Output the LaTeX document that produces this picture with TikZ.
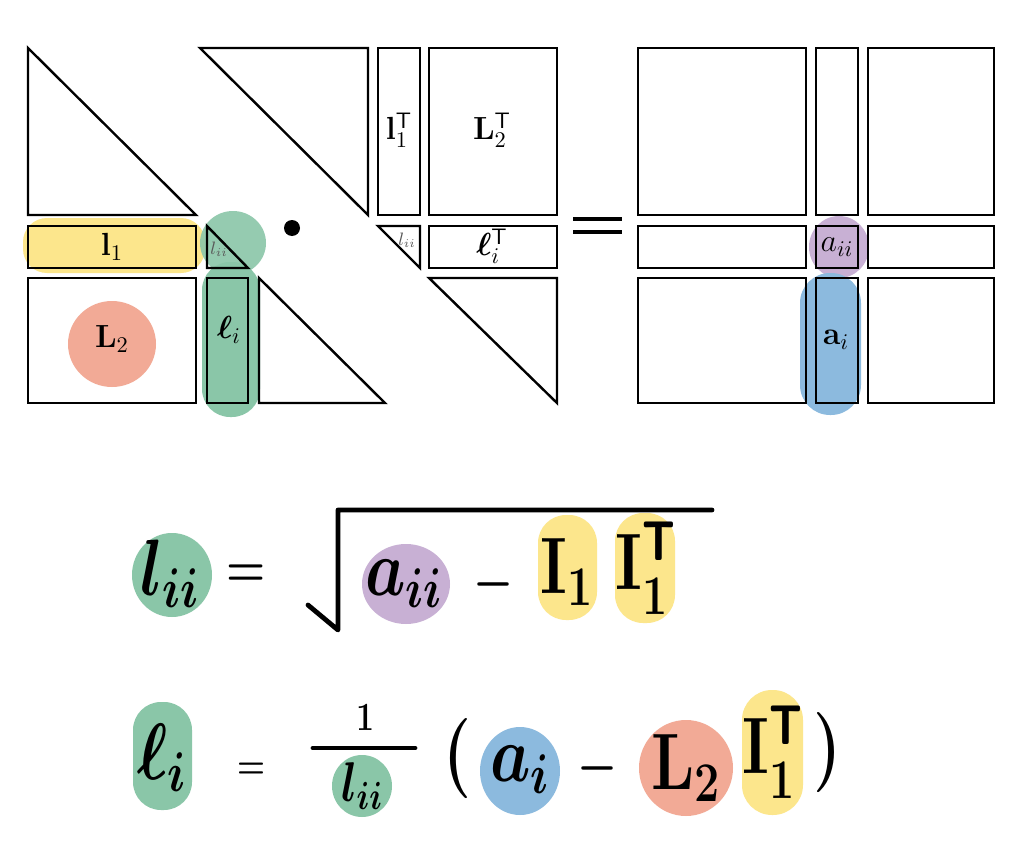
\RequirePackage{fix-cm}
\documentclass[tikz,border=0pt]{standalone}
\usepackage{bm}
\definecolor{hlyellow}{RGB}{252,230,140}
\definecolor{hlgreen}{RGB}{138,198,168}
\definecolor{hlred}{RGB}{242,170,150}
\definecolor{hlpurple}{RGB}{200,176,212}
\definecolor{hlblue}{RGB}{140,186,222}
\newcommand{\hwx}[1]{\scalebox{0.8}[1]{\boldmath #1}}
\tikzset{
  blk/.style={draw=black,line width=1.2pt},
  lab/.style={font=\fontsize{16}{19}\selectfont, inner sep=0pt},
  tiny/.style={font=\fontsize{9}{10}\selectfont, inner sep=0pt, text=black!65},
  hw/.style={font=\fontsize{40}{46}\selectfont, inner sep=0pt},
  hwsmall/.style={font=\fontsize{28}{32}\selectfont, inner sep=0pt},
  hwtiny/.style={font=\fontsize{20}{24}\selectfont, inner sep=0pt},
  pen/.style={draw=black,line width=2.4pt,line cap=round,line join=round},
}
\begin{document}
\begin{tikzpicture}[x=0.5pt,y=-0.5pt]
\useasboundingbox[fill=white] (0,0) rectangle (1024,846);

% ---------- highlights (top) ----------
\fill[hlyellow,rounded corners=12pt] (23,218) rectangle (205,273);
\fill[hlgreen,fill opacity=0.9] (233,243) ellipse [x radius=33, y radius=32];
\fill[hlgreen,rounded corners=14pt] (202,262) rectangle (260,417);
\fill[hlred] (112,344) ellipse [x radius=44, y radius=43];
\fill[hlpurple] (839,247) ellipse [x radius=30, y radius=31];
\fill[hlblue,rounded corners=15pt] (800,273) rectangle (861,415);

% ---------- left factor L ----------
\draw[blk] (28,48) -- (28,215) -- (196,215) -- cycle;
\draw[blk] (28,226) rectangle (196,268);
\draw[blk] (207,226) -- (207,268) -- (248,268) -- cycle;
\draw[blk] (28,278) rectangle (196,403);
\draw[blk] (207,278) rectangle (248,403);
\draw[blk] (259,278) -- (259,403) -- (385,403) -- cycle;
\node[lab] (l1) at (112,247) {$\mathbf{l}_1$};
\node[tiny] (lii) at (219,249) {$l_{ii}$};
\node[lab] (L2) at (112,339) {$\mathbf{L}_2$};
\node[lab] (elli) at (229,330) {$\bm{\ell}_i$};

% ---------- dot ----------
\fill (292,228) circle [radius=8];

% ---------- right factor L^T ----------
\draw[blk] (200,48) -- (368,48) -- (368,215) -- cycle;
\draw[blk] (378,48) rectangle (420,215);
\draw[blk] (429,48) rectangle (557,215);
\draw[blk] (378,226) -- (420,226) -- (420,268) -- cycle;
\draw[blk] (429,226) rectangle (557,268);
\draw[blk] (429,278) -- (557,278) -- (557,403) -- cycle;
\node[lab] (l1T) at (399,130) {$\mathbf{l}_1^{\mathsf{T}}$};
\node[lab] (L2T) at (492,130) {$\mathbf{L}_2^{\mathsf{T}}$};
\node[tiny] (liiT) at (407,240) {$l_{ii}$};
\node[lab] (elliT) at (492,246) {$\bm{\ell}_i^{\mathsf{T}}$};

% ---------- equals ----------
\draw[line width=2.2pt] (573,219) -- (622,219);
\draw[line width=2.2pt] (573,232) -- (622,232);

% ---------- A ----------
\foreach \xa/\xb in {638/806,816/858,868/994}{
  \foreach \ya/\yb in {48/215,226/268,278/403}{
    \draw[blk] (\xa,\ya) rectangle (\xb,\yb);
  }
}
\node[lab] (aii) at (837,247) {$a_{ii}$};
\node[lab] (ai) at (836,340) {$\mathbf{a}_i$};

% ---------- equation 1 ----------
\fill[hlgreen] (172,575) ellipse [x radius=40, y radius=42];
\fill[hlpurple] (406,584) ellipse [x radius=44, y radius=40];
\fill[hlyellow,rounded corners=14pt] (538,515) rectangle (597,620);
\fill[hlyellow,rounded corners=14pt] (615,513) rectangle (675,623);
\node[hw] (e1lii) at (170,574) {\hwx{$l_{ii}$}};
\node[hwsmall] (e1eq) at (246,576) {\hwx{$=$}};
\coordinate (sqA) at (308,605);
\coordinate (sqB) at (338,630);
\coordinate (sqC) at (338,510);
\coordinate (sqD) at (712,510);
\draw[pen] (sqA) -- (sqB) -- (sqC) -- (sqD);
\node[hw] (e1aii) at (404,584) {\hwx{$a_{ii}$}};
\node[hwsmall] (e1minus) at (494,584) {\hwx{$-$}};
\node[hw] (e1l1) at (567,572) {\hwx{$\mathbf{I}_1$}};
\node[hw] (e1l1T) at (646,568) {\hwx{$\mathbf{I}_1^{\mathsf{T}}$}};

% ---------- equation 2 ----------
\fill[hlgreen,rounded corners=14pt] (133,702) rectangle (192,810);
\fill[hlgreen] (362,786) ellipse [x radius=30, y radius=31];
\fill[hlblue] (520,771) ellipse [x radius=40, y radius=44];
\fill[hlred] (686,768) ellipse [x radius=47, y radius=48];
\fill[hlyellow,rounded corners=15pt] (742,690) rectangle (803,815);
\node[hw] (e2elli) at (162,758) {\hwx{$\ell_i$}};
\node[hwtiny] (e2eq) at (251,771) {\hwx{$=$}};
\node[hwtiny] (e2one) at (365,718) {\hwx{$1$}};
\coordinate (barL) at (313,748);
\coordinate (barR) at (415,748);
\draw[pen] (barL) -- (barR);
\node[hwsmall] (e2lii) at (362,786) {\hwx{$l_{ii}$}};
\node[hw] (e2lp) at (457,758) {\hwx{$($}};
\node[hw] (e2ai) at (520,770) {\hwx{$a_i$}};
\node[hwsmall] (e2minus) at (598,768) {\hwx{$-$}};
\node[hw] (e2L2) at (686,768) {\hwx{$\mathbf{L}_2$}};
\node[hw] (e2l1T) at (773,752) {\hwx{$\mathbf{I}_1^{\mathsf{T}}$}};
\node[hw] (e2rp) at (827,752) {\hwx{$)$}};
\end{tikzpicture}
\end{document}
